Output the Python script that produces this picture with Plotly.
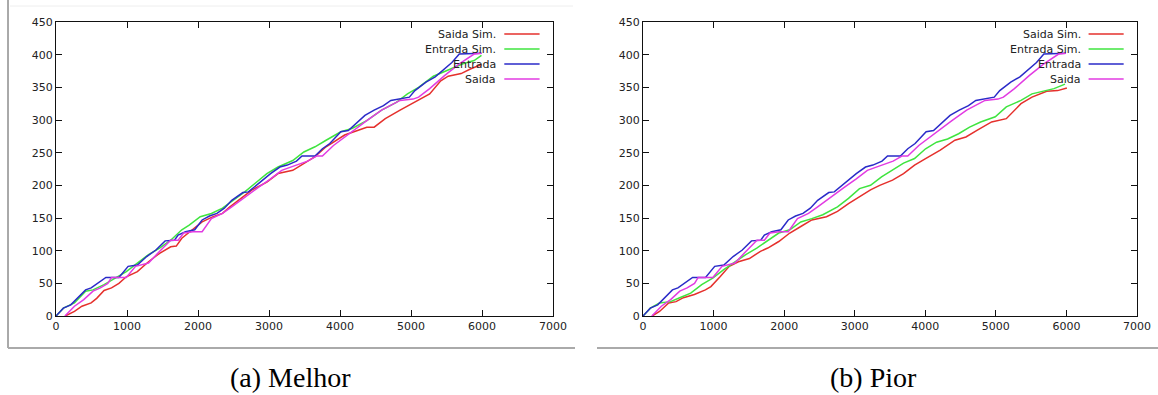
import plotly.graph_objects as go

# ---------------- data ----------------
series_names = ["Saida Sim.", "Entrada Sim.", "Entrada", "Saida"]
panel_captions = ["(a) Melhor", "(b) Pior"]
x_ticks = [0, 1000, 2000, 3000, 4000, 5000, 6000, 7000]
y_ticks = [0, 50, 100, 150, 200, 250, 300, 350, 400, 450]

# measured (shared by both panels)
entrada_x = [0, 104, 208, 417, 495, 703, 886, 1016, 1146, 1277, 1407, 1537, 1668, 1720, 1824, 1954,
             2058, 2162, 2267, 2371, 2475, 2632, 2710, 2866, 3022, 3153, 3257, 3387, 3465, 3648, 3752,
             3856, 4012, 4117, 4221, 4351, 4481, 4612, 4716, 4846, 4977, 5055, 5211, 5341, 5419, 5576,
             5680, 5836, 5993]
entrada_y = [0, 12, 17, 40, 43, 59, 59, 76, 78, 91, 101, 115, 116, 124, 129, 132, 147, 153, 157, 165,
             177, 189, 190, 204, 218, 228, 231, 237, 245, 245, 256, 264, 282, 284, 294, 307, 315, 322,
             330, 332, 335, 345, 358, 366, 373, 388, 401, 402, 402]

saida_x = [125, 260, 391, 521, 625, 730, 782, 990, 1120, 1303, 1433, 1615, 1720, 1798, 1928, 2058,
           2189, 2345, 2475, 2658, 2866, 3022, 3179, 3335, 3544, 3674, 3752, 3908, 4065, 4221, 4377,
           4586, 4846, 5029, 5107, 5263, 5472, 5680, 5889, 5993]
saida_y = [0, 15, 25, 38, 43, 50, 59, 59, 76, 81, 96, 116, 116, 127, 129, 129, 149, 157, 167, 182,
           198, 210, 223, 229, 237, 245, 245, 261, 274, 287, 299, 315, 330, 332, 335, 348, 368, 386,
           401, 402]

# simulation, panel (a) Melhor
saida_sim_a_x = [130, 260, 365, 495, 573, 677, 782, 886, 990, 1146, 1303, 1459, 1615, 1694, 1772,
                 1928, 2058, 2214, 2345, 2449, 2606, 2762, 2970, 3127, 3335, 3491, 3648, 3804, 4065,
                 4247, 4377, 4481, 4638, 4846, 5055, 5263, 5419, 5524, 5706, 5836, 5993]
saida_sim_a_y = [0, 7, 15, 20, 27, 39, 43, 50, 60, 68, 83, 96, 106, 107, 119, 132, 144, 152, 157,
                 167, 180, 193, 205, 218, 223, 233, 244, 259, 277, 284, 289, 289, 302, 315, 327, 340,
                 360, 367, 371, 378, 385]
entrada_sim_a_x = [0, 104, 260, 417, 521, 677, 834, 990, 1146, 1303, 1459, 1615, 1772, 1876, 2032,
                   2189, 2345, 2501, 2658, 2814, 2970, 3127, 3335, 3491, 3648, 3804, 4012, 4169,
                   4377, 4586, 4794, 4950, 5107, 5315, 5524, 5732, 5889, 5993]
entrada_sim_a_y = [0, 12, 20, 38, 40, 48, 58, 68, 81, 94, 104, 116, 132, 139, 152, 157, 165, 177,
                   190, 204, 218, 228, 238, 251, 259, 269, 282, 287, 299, 315, 327, 340, 350, 367,
                   376, 386, 391, 399]

# simulation, panel (b) Pior
saida_sim_b_x = [130, 234, 364, 468, 572, 728, 884, 962, 1092, 1222, 1352, 1508, 1664, 1768, 1924,
                 2080, 2236, 2392, 2600, 2756, 2912, 3068, 3224, 3354, 3536, 3692, 3848, 4004, 4212,
                 4420, 4576, 4732, 4940, 5148, 5356, 5512, 5642, 5720, 5876, 6006]
saida_sim_b_y = [0, 7, 20, 22, 28, 33, 40, 45, 60, 76, 83, 88, 99, 104, 114, 127, 137, 147, 152, 160,
                 172, 182, 193, 200, 208, 218, 231, 241, 254, 269, 274, 284, 297, 302, 325, 335, 340,
                 344, 345, 349]
entrada_sim_b_x = [0, 104, 234, 390, 520, 676, 832, 988, 1144, 1300, 1456, 1612, 1768, 1924, 2080,
                   2236, 2392, 2548, 2756, 2912, 3068, 3224, 3380, 3536, 3692, 3848, 4004, 4160,
                   4316, 4472, 4628, 4784, 4992, 5148, 5356, 5512, 5668, 5824, 5980]
entrada_sim_b_y = [0, 12, 20, 22, 28, 35, 48, 58, 71, 83, 94, 104, 116, 127, 132, 144, 149, 155,
                   167, 180, 195, 200, 213, 223, 234, 241, 256, 266, 271, 279, 289, 297, 305, 320,
                   330, 340, 344, 348, 355]

# ---------------- styling ----------------
colors = ["#e5302c", "#3fe43f", "#2a2ac8", "#e23be2"]
W, H = 1158, 395
tick_font = dict(family="DejaVu Sans", size=11, color="#222222")

fig = go.Figure()

panels = [
    ("x", "y", [(saida_sim_a_x, saida_sim_a_y), (entrada_sim_a_x, entrada_sim_a_y),
                (entrada_x, entrada_y), (saida_x, saida_y)]),
    ("x2", "y2", [(saida_sim_b_x, saida_sim_b_y), (entrada_sim_b_x, entrada_sim_b_y),
                  (entrada_x, entrada_y), (saida_x, saida_y)]),
]

for xa, ya, series in panels:
    for name, color, (sx, sy) in zip(series_names, colors, series):
        fig.add_trace(go.Scatter(x=sx, y=sy, mode="lines", name=name, xaxis=xa, yaxis=ya,
                                 line=dict(color=color, width=1.5), showlegend=False,
                                 hoverinfo="skip"))

axis_common = dict(showgrid=False, zeroline=False, showline=True, linecolor="#111111", linewidth=1,
                   mirror="allticks", ticks="inside", ticklen=6, tickcolor="#111111",
                   tickfont=tick_font, automargin=False)

x_dom = [[56 / W, 553 / W], [643 / W, 1137 / W]]
y_dom = [1 - 316 / H, 1 - 22 / H]

fig.update_layout(
    width=W, height=H, autosize=False,
    margin=dict(l=0, r=0, t=0, b=0),
    paper_bgcolor="white", plot_bgcolor="white",
    showlegend=False,
    xaxis=dict(domain=x_dom[0], range=[0, 7000], tickvals=x_ticks, anchor="y", **axis_common),
    yaxis=dict(domain=y_dom, range=[0, 450], tickvals=y_ticks, anchor="x", **axis_common),
    xaxis2=dict(domain=x_dom[1], range=[0, 7000], tickvals=x_ticks, anchor="y2", **axis_common),
    yaxis2=dict(domain=y_dom, range=[0, 450], tickvals=y_ticks, anchor="x2", **axis_common),
)

# gnuplot-style key: right-aligned text followed by a line sample
annotations = []
shapes = []
row_y = [0.959, 0.908, 0.857, 0.806]
for xa, ya in [("x", "y"), ("x2", "y2")]:
    for name, color, ry in zip(series_names, colors, row_y):
        annotations.append(dict(xref=f"{xa} domain", yref=f"{ya} domain", x=0.89, y=ry,
                                text=name, showarrow=False, xanchor="right", yanchor="middle",
                                font=dict(family="DejaVu Sans", size=11, color="#222222")))
        shapes.append(dict(type="line", xref=f"{xa} domain", yref=f"{ya} domain",
                           x0=0.902, x1=0.973, y0=ry, y1=ry,
                           line=dict(color=color, width=1.5)))

# captions
for cap, cx in zip(panel_captions, [290 / W, 873 / W]):
    annotations.append(dict(xref="paper", yref="paper", x=cx, y=1 - 377 / H, text=cap,
                            showarrow=False, xanchor="center", yanchor="middle",
                            font=dict(family="Liberation Serif", size=28, color="#000000")))

# image frame lines of the original figure
shapes += [
    dict(type="line", xref="paper", yref="paper", x0=8 / W, x1=8 / W, y0=1 - 348 / H, y1=1,
         line=dict(color="#555555", width=1)),
    dict(type="line", xref="paper", yref="paper", x0=8 / W, x1=575 / W, y0=1 - 348 / H,
         y1=1 - 348 / H, line=dict(color="#aaaaaa", width=2)),
    dict(type="line", xref="paper", yref="paper", x0=597 / W, x1=1, y0=1 - 348 / H,
         y1=1 - 348 / H, line=dict(color="#aaaaaa", width=2)),
    dict(type="line", xref="paper", yref="paper", x0=10 / W, x1=573 / W, y0=1 - 6 / H,
         y1=1 - 6 / H, line=dict(color="#eeeeee", width=1)),
]

fig.update_layout(annotations=annotations, shapes=shapes)
fig.write_html("out.html", config={"displayModeBar": False},
               post_script="document.body.style.margin='0';document.body.style.overflow='hidden';")
